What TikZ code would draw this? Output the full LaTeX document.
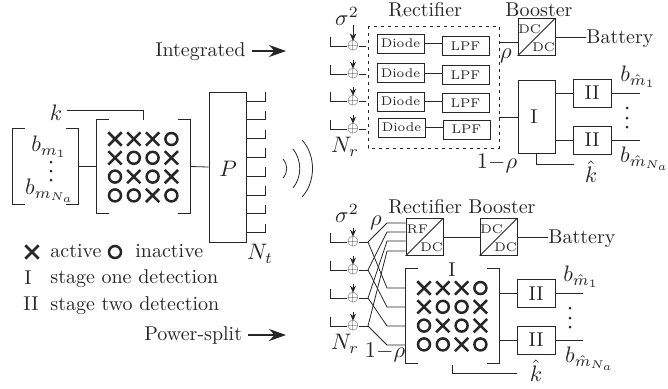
\documentclass[tikz,border=0pt]{standalone}
\usetikzlibrary{calc}
\usetikzlibrary{arrows.meta}
\usetikzlibrary{shapes.misc}
\newcommand{\tinyfont}{\fontsize{6.3}{7}\selectfont}
\tikzset{
 blk/.style={draw,rectangle,inner sep=0},
 dbox/.style={blk,minimum width=23.5pt,minimum height=9.5pt},
 cbox/.style={blk,minimum width=18.5pt,minimum height=18.5pt},
 twobox/.style={blk,minimum width=19pt,minimum height=14pt},
 hold/.style={inner sep=0},
 smalltxt/.style={inner sep=0,font=\tinyfont},
 lab/.style={inner sep=0,scale=1.12},
 txt/.style={inner sep=0,anchor=base west},
 symx/.style={cross out,draw,line width=1.25pt,inner sep=0,minimum size=5.4pt},
 symo/.style={circle,draw,line width=1.25pt,inner sep=0,minimum size=6pt},
 addr/.style={inner sep=0,scale=.75},
 bigarrow/.style={-{Stealth[length=8.5pt,width=6pt]},line width=.6pt},
 smallarrow/.style={-{Stealth[length=3.5pt,width=3pt]}}
}
% open bracket round a hidden node
\newcommand{\brackets}[1]{
 \draw ($(#1.north west)+(12,0)$) -- (#1.north west) -- (#1.south west) -- ($(#1.south west)+(12,0)$);
 \draw ($(#1.north east)+(-12,0)$) -- (#1.north east) -- (#1.south east) -- ($(#1.south east)+(-12,0)$);
}
% the 4x4 grid of marks
\newcommand{\symgrid}[3]{
 \foreach \r/\a/\b/\c/\d in {0/x/x/x/o, 1/x/o/o/x, 2/o/x/o/x, 3/o/o/x/o} {
  \node[sym\a] (#3a\r) at (#1,#2+\r*18.8) {};
  \node[sym\b] (#3b\r) at (#1+18.8,#2+\r*18.8) {};
  \node[sym\c] (#3c\r) at (#1+37.6,#2+\r*18.8) {};
  \node[sym\d] (#3d\r) at (#1+56.4,#2+\r*18.8) {};
 }
}
% dc-dc style box with a diagonal
\newcommand{\convbox}[5]{
 \node[cbox] (#1) at (#2,#3) {};
 \draw (#1.south west) -- (#1.north east);
 \node[smalltxt] (#1t) at ($(#1.center)+(-7,-8)$) {#4};
 \node[smalltxt] (#1b) at ($(#1.center)+(7,10)$) {#5};
}
\begin{document}
\begin{tikzpicture}[x=.5pt,y=-.5pt,color=black!85]
\useasboundingbox (0,0) rectangle (668,388);

% transmitter
\node[hold,minimum width=32.5pt,minimum height=37.5pt] (vec) at (45.5,166.5) {};
\brackets{vec}
\node[lab] (bm1) at (49,147) {$b_{m_1}$};
\node[lab] (bmna) at (50,191) {$b_{m_{N_a}}$};
\foreach \y in {162,171,180} {
 \fill (51,\y) circle (1.5);
}
\node[hold,minimum width=46.5pt,minimum height=46.5pt] (mat) at (143.5,166.5) {};
\brackets{mat}
\symgrid{115}{139}{g}
\node[blk,minimum width=18.5pt,minimum height=75pt] (pre) at (227.5,167) {};
\node[lab] (plab) at (228,169) {$P$};
\draw (vec.east) -- (mat.west);
\draw (mat.east) -- (pre.west);
\node[lab] (k) at (56,113) {$k$};
\coordinate (kstart) at (67,110);
\draw (kstart) -| (mat.north);
\foreach \i in {0,...,7} {
 \coordinate (ant\i) at (265,101+\i*18.8);
 \draw (ant\i -| pre.east) -- (ant\i) -- ++(0,-9);
}
\node[lab] (nt) at (260,254) {$N_t$};
\draw (283,159) .. controls (288,165) and (288,172) .. (283,178);
\draw (293,149) .. controls (302,160) and (302,177) .. (293,188);
\draw (302,140) .. controls (316,155) and (316,182) .. (302,197);

% legend
\node[symx] (lx) at (32,252) {};
\node[txt] (lactive) at (50,257) {active};
\node[symo] (lo) at (115,252) {};
\node[txt] (linactive) at (135,257) {inactive};
\node[inner sep=0] (lone) at (28,278) {I};
\node[txt] (ltxtone) at (50,283) {stage one detection};
\node[inner sep=0] (ltwo) at (31,304) {II};
\node[txt] (ltxttwo) at (50,310) {stage two detection};

% pointers
\node[txt] (integ) at (155,56) {Integrated};
\coordinate (integend) at (286,51);
\draw[bigarrow] (integ.east |- integend) ++(6,0) -- (integend);
\node[txt] (psplit) at (144,340) {Power-split};
\coordinate (psend) at (286,335);
\draw[bigarrow] (psplit.east |- psend) ++(6,0) -- (psend);

% integrated receiver
\node[txt] (rect) at (388,16) {Rectifier};
\node[txt] (boost) at (505,16) {Booster};
\node[lab] (sigup) at (347,16) {$\sigma^2$};
\draw[dash pattern=on 1.5pt off 2pt] (368,26) rectangle (499,148);
\foreach \i/\y/\dy/\ly/\dx in {1/46/43.5/46/0,2/74/73/75/0,3/101/101.5/103/0,4/129/127.5/129.5/1} {
 \node[addr] (add\i) at (353,\y) {$\oplus$};
 \coordinate (inp\i) at (330,\y);
 \coordinate (outp\i) at (366,\y);
 \coordinate (noi\i) at (353,\y-14);
 \draw (inp\i) ++(0,-9) -- (inp\i) -- (add\i.west);
 \draw (add\i.east) -- (outp\i);
 \draw[smallarrow] (noi\i) -- (add\i.north);
 \node[dbox,font=\tinyfont] (dio\i) at (400.5+\dx,\dy) {Diode};
 \node[dbox,font=\tinyfont] (lpf\i) at (465.5+\dx,\ly) {LPF};
 \draw (dio\i.east) -- (dio\i.east -| lpf\i.west);
}
\draw[smallarrow] (353,25) -- (add1.north);
\node[lab] (nrup) at (345,147) {$N_r$};
\convbox{dcup}{536.5}{37}{DC}{DC}
\coordinate (rhoin) at (499,42);
\draw (rhoin) -- (rhoin -| dcup.west);
\node[lab] (rhoup) at (506,56) {$\rho$};
\node[txt] (batup) at (586,43) {Battery};
\draw (dcup.east) -- (batup.west |- dcup.east);
\node[blk,minimum width=18.5pt,minimum height=36.5pt] (one) at (536.5,116.5) {};
\node[inner sep=0] (onelab) at (534,117) {I};
\coordinate (onein) at (499,117);
\draw (onein) -- (onein -| one.west);
\node[lab] (rhodn) at (497,163) {$1{-}\rho$};
\node[twobox] (two1) at (592,93) {II};
\node[twobox] (two2) at (592,140) {II};
\foreach \i in {1,2} {
 \coordinate (dec\i) at (640,\i*47+47);
 \draw (two\i.west -| one.east) -- (two\i.west);
 \draw (two\i.east) -- (two\i.east -| dec\i);
}
\node[lab] (bup1) at (638,77) {$b_{\hat m_1}$};
\node[lab] (bup2) at (645,159) {$b_{\hat m_{N_a}}$};
\foreach \y in {108,118,127} {
 \fill (627,\y) circle (1.5);
}
\coordinate (khatend) at (574,164);
\draw (one.south) |- (khatend);
\node[lab] (khat) at (591,172) {$\hat k$};

% power-split receiver
\node[txt] (rectb) at (388,213) {Rectifier};
\node[txt] (boostb) at (468,213) {Booster};
\node[lab] (siglo) at (347,213) {$\sigma^2$};
\convbox{rf}{424.5}{237}{RF}{DC}
\convbox{dclo}{498.5}{237}{DC}{DC}
\draw (rf.east) -- (dclo.west);
\node[txt] (batlo) at (548,243) {Battery};
\draw (dclo.east) -- (batlo.west |- dclo.east);
\node[hold,minimum width=46.5pt,minimum height=47pt] (matb) at (452.5,316) {};
\brackets{matb}
\symgrid{424}{288}{h}
\node[inner sep=0] (oneb) at (452,270) {I};
\foreach \i/\y/\up/\dn in {1/242/223/288,2/270/232/307,3/298/241/326,4/326/251/345} {
 \node[addr] (aeb\i) at (353,\y) {$\oplus$};
 \coordinate (inb\i) at (330,\y);
 \coordinate (spl\i) at (368,\y);
 \coordinate (noib\i) at (353,\y-14);
 \coordinate (upb\i) at (387,\up);
 \coordinate (dnb\i) at (387,\dn);
 \draw (inb\i) ++(0,-9) -- (inb\i) -- (aeb\i.west);
 \draw (aeb\i.east) -- (spl\i);
 \draw[smallarrow] (noib\i) -- (aeb\i.north);
 \draw (spl\i) -- (upb\i) -- (upb\i -| rf.west);
 \draw (spl\i) -- (dnb\i) -- (dnb\i -| matb.west);
}
\node[lab] (nrlo) at (345,344) {$N_r$};
\node[lab] (rholo) at (376,223) {$\rho$};
\node[lab] (rhob) at (385,352) {$1{-}\rho$};
\node[twobox] (twob1) at (536,293.5) {II};
\node[twobox] (twob2) at (536,340) {II};
\foreach \i in {1,2} {
 \coordinate (decb\i) at (583,249+\i*46);
 \draw (twob\i.west -| matb.east) -- (twob\i.west);
 \draw (twob\i.east) -- (twob\i.east -| decb\i);
}
\node[lab] (blo1) at (581,277) {$b_{\hat m_1}$};
\node[lab] (blo2) at (590,359) {$b_{\hat m_{N_a}}$};
\foreach \y in {308,318,327} {
 \fill (570,\y) circle (1.5);
}
\coordinate (khatendb) at (517,373);
\draw (matb.south) ++(0,2) |- (khatendb);
\node[lab] (khatb) at (536,371) {$\hat k$};
\end{tikzpicture}
\end{document}
